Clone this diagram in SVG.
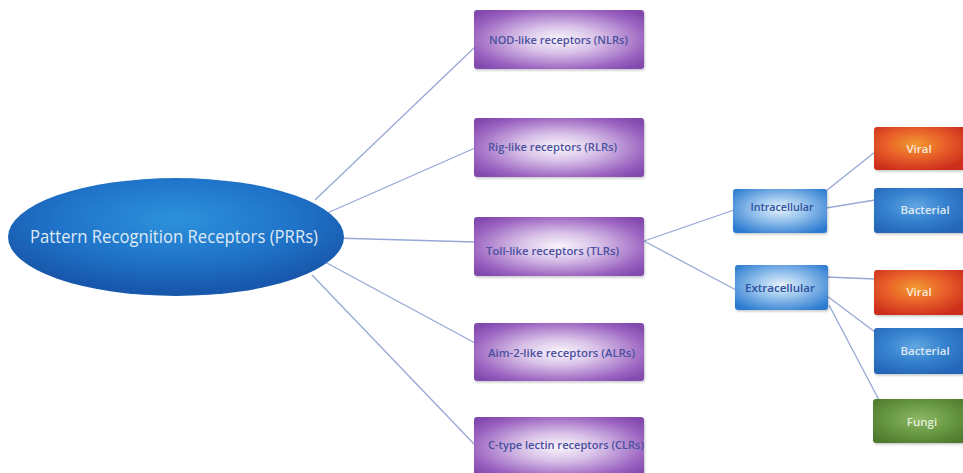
<svg xmlns="http://www.w3.org/2000/svg" width="963" height="473" viewBox="0 0 963 473">
<defs>
<radialGradient id="gEll" cx="50%" cy="35%" r="60%">
<stop offset="0" stop-color="#2d92dc"/>
<stop offset="0.6" stop-color="#1f73c8"/>
<stop offset="1" stop-color="#1858ac"/>
</radialGradient>
<radialGradient id="gPur" cx="50%" cy="50%" r="65%">
<stop offset="0" stop-color="#faf6fc"/>
<stop offset="0.35" stop-color="#d9c2e8"/>
<stop offset="0.8" stop-color="#9a62c0"/>
<stop offset="1" stop-color="#8248ae"/>
</radialGradient>
<radialGradient id="gLb" cx="50%" cy="45%" r="65%">
<stop offset="0" stop-color="#e6f1fb"/>
<stop offset="0.4" stop-color="#9cc6ee"/>
<stop offset="1" stop-color="#2a7ad0"/>
</radialGradient>
<radialGradient id="gRed" cx="45%" cy="40%" r="65%">
<stop offset="0" stop-color="#f29a30"/>
<stop offset="0.5" stop-color="#e8602a"/>
<stop offset="1" stop-color="#cc2e1c"/>
</radialGradient>
<radialGradient id="gBl" cx="45%" cy="40%" r="65%">
<stop offset="0" stop-color="#63a6e2"/>
<stop offset="0.5" stop-color="#3682cf"/>
<stop offset="1" stop-color="#2566b8"/>
</radialGradient>
<radialGradient id="gGr" cx="50%" cy="45%" r="65%">
<stop offset="0" stop-color="#8cb868"/>
<stop offset="0.5" stop-color="#6a9a44"/>
<stop offset="1" stop-color="#4d7a2e"/>
</radialGradient>
<filter id="sh" x="-10%" y="-10%" width="130%" height="140%">
<feDropShadow dx="1" dy="1.5" stdDeviation="1.2" flood-color="#000" flood-opacity="0.22"/>
</filter>
<style>
.ln{stroke:#97a8d6;stroke-width:1.3;fill:none}
.pl{font-family:"Open Sans","Liberation Sans",sans-serif;font-size:11.5px;font-weight:600;fill:#4a4f9e}
.bl{font-family:"Open Sans","Liberation Sans",sans-serif;font-size:11.5px;font-weight:600;fill:#2d509c;text-anchor:middle}
.wl{font-family:"Open Sans","Liberation Sans",sans-serif;font-size:11.5px;font-weight:600;text-anchor:middle}
.pur{fill:url(#gPur);filter:url(#sh)}
</style>
</defs>
<rect width="963" height="473" fill="#ffffff"/>
<g id="connectors">
<line class="ln" x1="315" y1="200" x2="475" y2="47"/>
<line class="ln" x1="325" y1="214" x2="475" y2="148"/>
<line class="ln" x1="335" y1="238" x2="475" y2="242"/>
<line class="ln" x1="325" y1="262" x2="475" y2="343"/>
<line class="ln" x1="312" y1="275" x2="475" y2="445"/>
<line class="ln" x1="644" y1="241" x2="734" y2="210"/>
<line class="ln" x1="644" y1="241" x2="736" y2="290"/>
<line class="ln" x1="826" y1="191" x2="875" y2="152"/>
<line class="ln" x1="826" y1="208" x2="875" y2="200"/>
<line class="ln" x1="827" y1="277" x2="875" y2="279"/>
<line class="ln" x1="827" y1="296" x2="875" y2="332"/>
<line class="ln" x1="829" y1="305" x2="879" y2="400"/>
</g>
<g id="prr">
<ellipse cx="176" cy="237" rx="168" ry="59" fill="url(#gEll)"/>
<text x="174" y="243" text-anchor="middle" font-family="Open Sans, Liberation Sans, sans-serif" font-size="19" fill="#dfe9f6" textLength="288" lengthAdjust="spacingAndGlyphs">Pattern Recognition Receptors (PRRs)</text>
</g>
<g id="nlr">
<rect class="pur" x="474" y="10" width="170" height="59" rx="3"/>
<text class="pl" x="489" y="44" textLength="139" lengthAdjust="spacingAndGlyphs">NOD-like receptors (NLRs)</text>
</g>
<g id="rlr">
<rect class="pur" x="474" y="118" width="170" height="59" rx="3"/>
<text class="pl" x="488" y="151" textLength="129" lengthAdjust="spacingAndGlyphs">Rig-like receptors (RLRs)</text>
</g>
<g id="tlr">
<rect class="pur" x="474" y="217" width="170" height="59" rx="3"/>
<text class="pl" x="486" y="255" textLength="133" lengthAdjust="spacingAndGlyphs">Toll-like receptors (TLRs)</text>
</g>
<g id="alr">
<rect class="pur" x="474" y="323" width="170" height="58" rx="3"/>
<text class="pl" x="488" y="357" textLength="147" lengthAdjust="spacingAndGlyphs">Aim-2-like receptors (ALRs)</text>
</g>
<g id="clr">
<rect class="pur" x="474" y="417" width="170" height="60" rx="3"/>
<text class="pl" x="488" y="449" textLength="156" lengthAdjust="spacingAndGlyphs">C-type lectin receptors (CLRs)</text>
</g>
<g id="intra">
<rect x="733" y="189" width="94" height="44" rx="3" fill="url(#gLb)" filter="url(#sh)"/>
<text class="bl" x="782" y="211" textLength="63" lengthAdjust="spacingAndGlyphs">Intracellular</text>
</g>
<g id="extra">
<rect x="735" y="265" width="93" height="45" rx="3" fill="url(#gLb)" filter="url(#sh)"/>
<text class="bl" x="780" y="292" textLength="70" lengthAdjust="spacingAndGlyphs">Extracellular</text>
</g>
<g id="viral1">
<rect x="874" y="127" width="92" height="43" rx="3" fill="url(#gRed)" filter="url(#sh)"/>
<text class="wl" x="919" y="153" fill="#fbe9d8">Viral</text>
</g>
<g id="bact1">
<rect x="874" y="188" width="92" height="45" rx="3" fill="url(#gBl)" filter="url(#sh)"/>
<text class="wl" x="925" y="214" fill="#dce8f5">Bacterial</text>
</g>
<g id="viral2">
<rect x="874" y="270" width="92" height="45" rx="3" fill="url(#gRed)" filter="url(#sh)"/>
<text class="wl" x="919" y="296" fill="#fbe9d8">Viral</text>
</g>
<g id="bact2">
<rect x="874" y="328" width="92" height="46" rx="3" fill="url(#gBl)" filter="url(#sh)"/>
<text class="wl" x="925" y="355" fill="#dce8f5">Bacterial</text>
</g>
<g id="fungi">
<rect x="873" y="399" width="93" height="44" rx="3" fill="url(#gGr)" filter="url(#sh)"/>
<text class="wl" x="922" y="426" fill="#e2edd6">Fungi</text>
</g>
</svg>
